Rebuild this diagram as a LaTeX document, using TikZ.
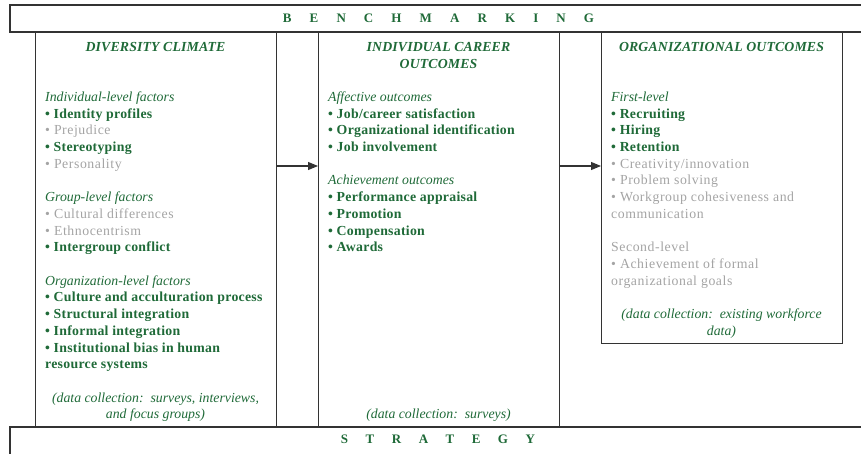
\documentclass[tikz,border=0pt]{standalone}
\usepackage{fontspec}
\setmainfont{Liberation Serif}
\newfontfamily\regtrack[LetterSpace=4]{Liberation Serif}
\newfontfamily\boldtrack[LetterSpace=2]{Liberation Serif}
\newfontfamily\hdtrack[LetterSpace=1]{Liberation Serif}
\usetikzlibrary{arrows.meta}
\definecolor{grn}{HTML}{1F6A38}
\definecolor{gry}{HTML}{A4A4A4}
\definecolor{frm}{HTML}{333333}
\newcommand{\Ly}[1]{51.4+16.7*#1}
\newcommand{\spl}{\hspace{18.1pt}}
\newcommand{\spm}{\hspace{17.5pt}}
\begin{document}
\begin{tikzpicture}[x=1pt,y=-1pt,
  every node/.style={inner sep=0pt},
  frame/.style={draw=frm,line width=1.1pt},
  hd/.style={font=\fontsize{13.8}{15}\hdtrack\bfseries\itshape,text=grn,anchor=base},
  sub/.style={font=\fontsize{13.8}{15}\selectfont\itshape,text=grn,anchor=base west},
  gb/.style={font=\fontsize{13.8}{15}\boldtrack\bfseries,text=grn,anchor=base west},
  gr/.style={font=\fontsize{13.8}{15}\regtrack,text=gry,anchor=base west},
  dc/.style={font=\fontsize{13.8}{15}\selectfont\itshape,text=grn,anchor=base},
  band/.style={font=\fontsize{13}{15}\selectfont\bfseries,text=grn,anchor=base},
  arr/.style={draw=frm,line width=1.1pt,-{Triangle[length=10pt,width=8pt]}}]
\useasboundingbox (0,0) rectangle (861,454);
% bands
\draw[frame] (880,5) -- (10,5) -- (10,32) -- (880,32);
\draw[frame] (880,427) -- (10,427) -- (10,470);
% boxes
\node[frame,minimum width=241pt,minimum height=395pt,anchor=north west] (b1) at (35,32) {};
\node[frame,minimum width=241pt,minimum height=395pt,anchor=north west] (b2) at (318,32) {};
\node[frame,minimum width=241pt,minimum height=311pt,anchor=north west] (b3) at (601,32) {};
\coordinate (a1s) at (276,166);
\coordinate (a1e) at (318,166);
\coordinate (a2s) at (559,166);
\coordinate (a2e) at (601,166);
\draw[arr] (a1s) -- (a1e);
\draw[arr] (a2s) -- (a2e);
% band texts
\node[band] (bench) at (438.5,22.8) {B\spl E\spl N\spl C\spl H\spl M\spl A\spl R\spl K\spl I\spl N\spl G};
\node[band] (strat) at (438,443.8) {S\spm T\spm R\spm A\spm T\spm E\spm G\spm Y};
% box 1
\node[hd] (h1) at (155.5,{\Ly{0}}) {DIVERSITY CLIMATE};
\node[sub] (p1) at (45,{\Ly{3}}) {Individual-level factors};
\node[gb] (p2) at (45,{\Ly{4}}) {• Identity profiles};
\node[gr] (p3) at (45,{\Ly{5}}) {• Prejudice};
\node[gb] (p4) at (45,{\Ly{6}}) {• Stereotyping};
\node[gr] (p5) at (45,{\Ly{7}}) {• Personality};
\node[sub] (p6) at (45,{\Ly{9}}) {Group-level factors};
\node[gr] (p7) at (45,{\Ly{10}}) {• Cultural differences};
\node[gr] (p8) at (45,{\Ly{11}}) {• Ethnocentrism};
\node[gb] (p9) at (45,{\Ly{12}}) {• Intergroup conflict};
\node[sub] (p10) at (45,{\Ly{14}}) {Organization-level factors};
\node[gb] (p11) at (45,{\Ly{15}}) {• Culture and acculturation process};
\node[gb] (p12) at (45,{\Ly{16}}) {• Structural integration};
\node[gb] (p13) at (45,{\Ly{17}}) {• Informal integration};
\node[gb] (p14) at (45,{\Ly{18}}) {• Institutional bias in human};
\node[gb] (p15) at (45,{\Ly{19}}) {resource systems};
\node[dc] (p16) at (155.5,{\Ly{21}}) {(data collection:\ \ surveys, interviews,};
\node[dc] (p17) at (155.5,{\Ly{22}}) {and focus groups)};
% box 2
\node[hd] (h2a) at (438.5,{\Ly{0}}) {INDIVIDUAL CAREER};
\node[hd] (h2b) at (438.5,{\Ly{1}}) {OUTCOMES};
\node[sub] (q1) at (328,{\Ly{3}}) {Affective outcomes};
\node[gb] (q2) at (328,{\Ly{4}}) {• Job/career satisfaction};
\node[gb] (q3) at (328,{\Ly{5}}) {• Organizational identification};
\node[gb] (q4) at (328,{\Ly{6}}) {• Job involvement};
\node[sub] (q5) at (328,{\Ly{8}}) {Achievement outcomes};
\node[gb] (q6) at (328,{\Ly{9}}) {• Performance appraisal};
\node[gb] (q7) at (328,{\Ly{10}}) {• Promotion};
\node[gb] (q8) at (328,{\Ly{11}}) {• Compensation};
\node[gb] (q9) at (328,{\Ly{12}}) {• Awards};
\node[dc] (q10) at (438.5,{\Ly{22}}) {(data collection:\ \ surveys)};
% box 3
\node[hd] (h3) at (721.5,{\Ly{0}}) {ORGANIZATIONAL OUTCOMES};
\node[sub] (r1) at (611,{\Ly{3}}) {First-level};
\node[gb] (r2) at (611,{\Ly{4}}) {• Recruiting};
\node[gb] (r3) at (611,{\Ly{5}}) {• Hiring};
\node[gb] (r4) at (611,{\Ly{6}}) {• Retention};
\node[gr] (r5) at (611,{\Ly{7}}) {• Creativity/innovation};
\node[gr] (r6) at (611,{\Ly{8}}) {• Problem solving};
\node[gr] (r7) at (611,{\Ly{9}}) {• Workgroup cohesiveness and};
\node[gr] (r8) at (611,{\Ly{10}}) {communication};
\node[gr] (r9) at (611,{\Ly{12}}) {Second-level};
\node[gr] (r10) at (611,{\Ly{13}}) {• Achievement of formal};
\node[gr] (r11) at (611,{\Ly{14}}) {organizational goals};
\node[dc] (r12) at (721.5,{\Ly{16}}) {(data collection:\ \ existing workforce};
\node[dc] (r13) at (721.5,{\Ly{17}}) {data)};
\end{tikzpicture}
\end{document}
